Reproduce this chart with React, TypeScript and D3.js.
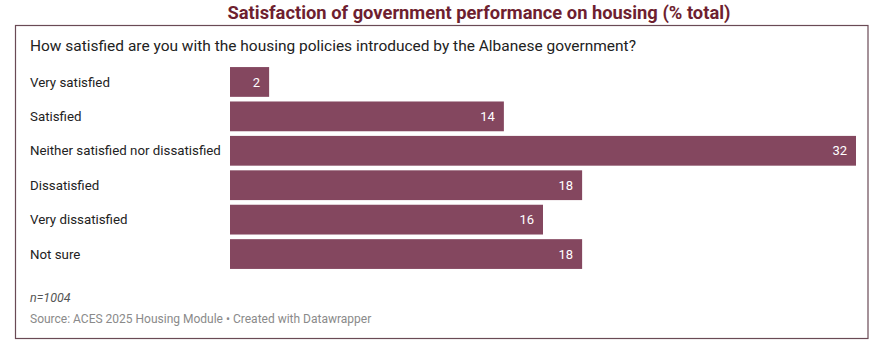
import React from "react";
import * as d3 from "d3";

const categories = [
  "Very satisfied",
  "Satisfied",
  "Neither satisfied nor dissatisfied",
  "Dissatisfied",
  "Very dissatisfied",
  "Not sure",
];
const values = [2, 14, 32, 18, 16, 18];

const title = "Satisfaction of government performance on housing (% total)";
const question =
  "How satisfied are you with the housing policies introduced by the Albanese government?";
const note = "n=1004";
const source = "Source: ACES 2025 Housing Module • Created with Datawrapper";

const W = 879;
const H = 347;

export default function App() {
  const x = d3.scaleLinear().domain([0, 32]).range([230, 856]);
  const y = d3
    .scaleBand<string>()
    .domain(categories)
    .range([65, 271])
    .paddingInner(0.135)
    .paddingOuter(0.06);

  return (
    <svg
      width={W}
      height={H}
      style={{ position: "absolute", left: 0, top: 0, background: "#fff" }}
      fontFamily="Roboto, 'Noto Sans', sans-serif"
    >
      <rect x={0} y={0} width={W} height={H} fill="#fff" />
      <text
        x={479}
        y={19}
        textAnchor="middle"
        fontSize={17.5}
        fontWeight={700}
        fill="#6e1f30"
        fontFamily="'Liberation Sans Narrow', 'Roboto', sans-serif"
        textLength={503}
        lengthAdjust="spacingAndGlyphs"
      >
        {title}
      </text>
      <rect
        x={15.5}
        y={25.5}
        width={852.5}
        height={313}
        fill="#fff"
        stroke="#6a4a55"
        strokeWidth={1.2}
      />
      <text
        x={30}
        y={51}
        fontSize={15}
        fill="#222"
        textLength={606}
        lengthAdjust="spacingAndGlyphs"
      >
        {question}
      </text>
      {categories.map((c, i) => {
        const yy = y(c)!;
        const bh = y.bandwidth();
        return (
          <g key={c}>
            <text
              x={30}
              y={yy + bh / 2}
              dy="0.35em"
              fontSize={13.3}
              fill="#222"
            >
              {c}
            </text>
            <rect
              x={x(0)}
              y={yy}
              width={x(values[i]) - x(0)}
              height={bh}
              fill="#84475f"
            />
            <text
              x={x(values[i]) - 9}
              y={yy + bh / 2}
              dy="0.35em"
              textAnchor="end"
              fontSize={13}
              fill="#fff"
            >
              {values[i]}
            </text>
          </g>
        );
      })}
      <text x={30} y={302} fontSize={12.5} fontStyle="italic" fill="#555">
        {note}
      </text>
      <text x={30} y={323} fontSize={12} fill="#8a8a8a">
        {source}
      </text>
    </svg>
  );
}
